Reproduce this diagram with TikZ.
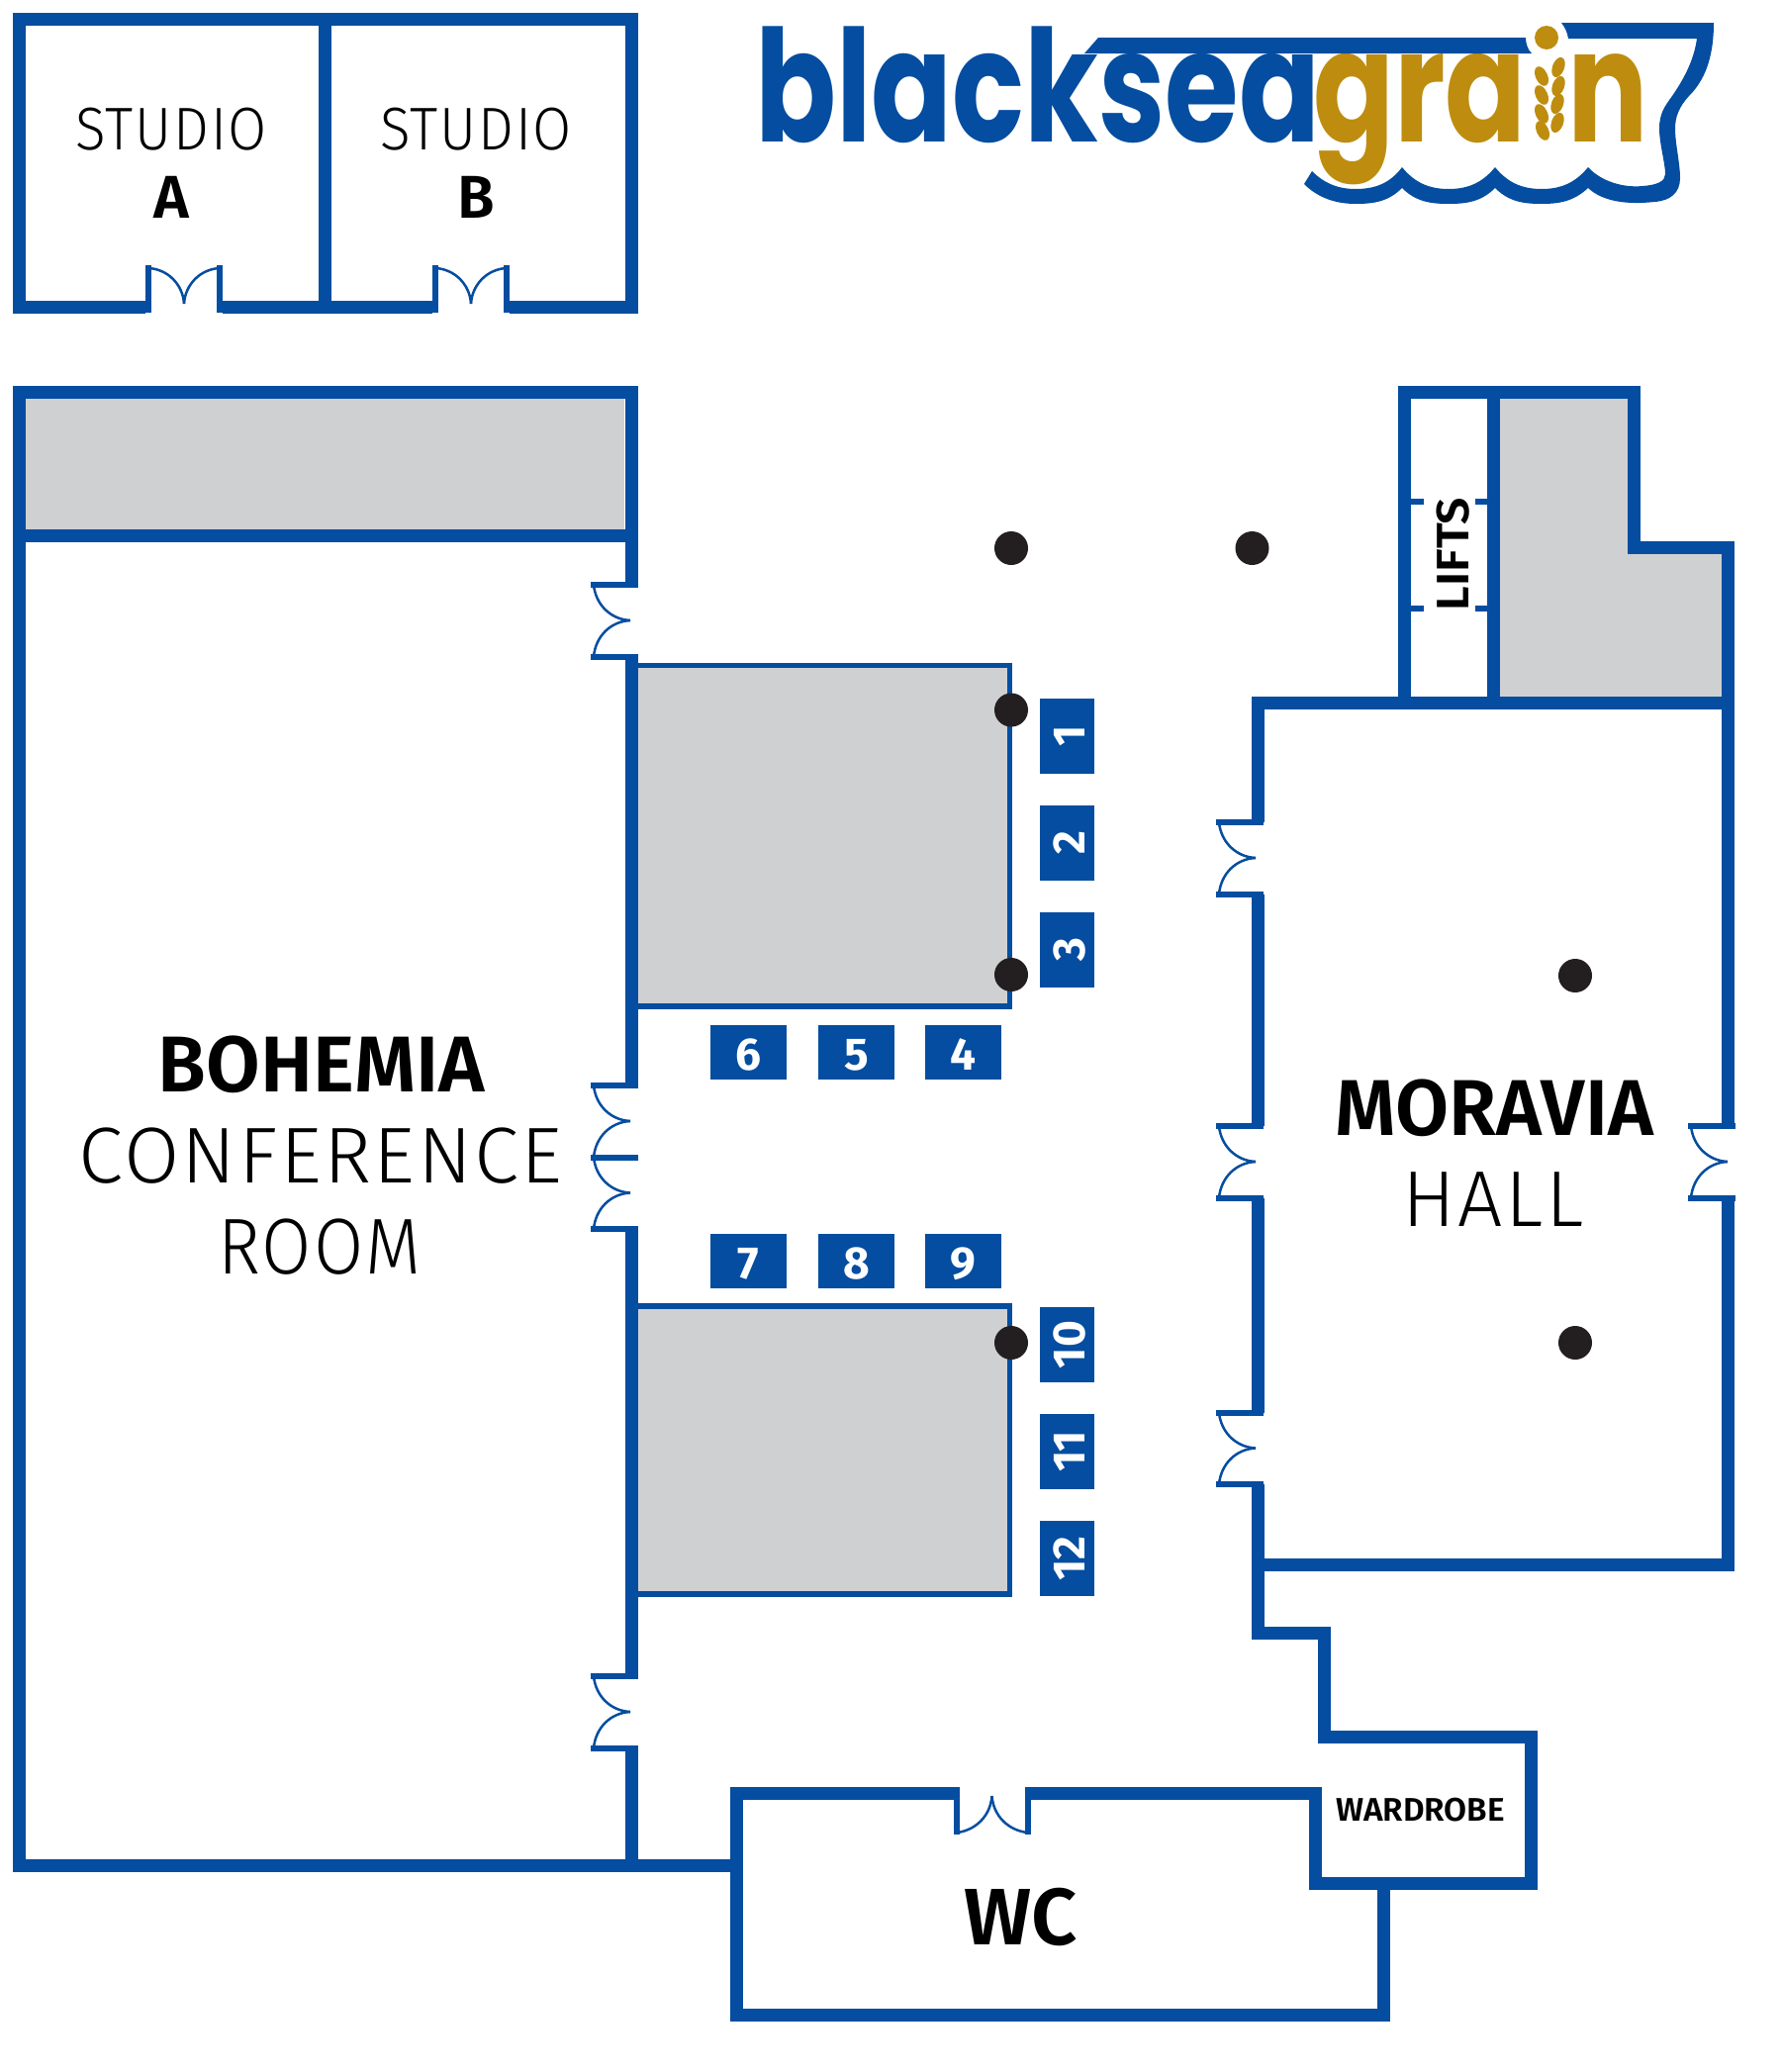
\documentclass[tikz,border=0pt]{standalone}
\usepackage{fontspec}
\usepackage{xcolor}
\usepackage{tikz}
\setmainfont{Fira Sans}
\newfontfamily\dinlight[LetterSpace=3]{Fira Sans Light}
\newfontfamily\dinbold{Fira Sans}[BoldFont={Fira Sans SemiBold}]
\newfontfamily\dinheavy{Fira Sans Bold}
\newfontfamily\logofont{Poppins Bold}
\definecolor{wallblue}{HTML}{044DA0}
\definecolor{roomgrey}{HTML}{CFD0D2}
\definecolor{pillarblack}{HTML}{231F20}
\definecolor{graingold}{HTML}{BE8D0F}
\tikzset{
	wall/.style={draw=wallblue,line width=13pt,line join=miter},
	partition/.style={draw=wallblue,line width=5.5pt},
	jamb/.style={draw=wallblue,line width=6pt},
	leaf/.style={draw=wallblue,line width=2.5pt},
	pillar/.style={fill=pillarblack},
	lighttext/.style={anchor=base,inner sep=0pt,text=black,transform shape,font=\dinlight\fontsize{#1}{#1}\selectfont},
	boldtext/.style={anchor=base,inner sep=0pt,text=black,transform shape,font=\dinbold\bfseries\fontsize{#1}{#1}\selectfont},
	standtag/.style={fill=wallblue,text=white,inner sep=0pt,minimum width=77pt,minimum height=55pt,text height=36pt,text depth=0pt,font=\dinheavy\fontsize{46}{46}\selectfont},
	sidetag/.style={standtag,minimum width=76pt,minimum height=55pt,rotate=90},
	logotext/.style={anchor=base west,inner sep=0pt,xscale=.827,yscale=1.08,transform shape,font=\logofont\fontsize{146}{146}\selectfont}
}
\begin{document}
\begin{tikzpicture}[x=1pt,y=-1pt]
	\useasboundingbox (0,0) rectangle (1800,2094);
	% grey areas
	\fill[roomgrey] (25,403) rectangle (631,535);
	\fill[roomgrey] (1515,402) -- (1645,402) -- (1645,560) -- (1740,560) -- (1740,704) -- (1515,704) -- cycle;
	\draw[partition,fill=roomgrey] (638,672.5) rectangle (1020.5,1017);
	\draw[partition,fill=roomgrey] (638,1320) rectangle (1020.5,1611);
	% studios
	\draw[wall] (147,310) -- (19,310) -- (19,19) -- (638,19) -- (638,310) -- (515,310);
	\draw[wall] (328,19) -- (328,310);
	\draw[wall] (225,310) -- (437,310);
	% bohemia
	\draw[wall] (638,591) -- (638,396) -- (19,396) -- (19,1885) -- (744.5,1885);
	\draw[wall] (19,541.5) -- (638,541.5);
	\draw[wall] (638,664) -- (638,1097);
	\draw[wall] (638,1242) -- (638,1694);
	\draw[wall] (638,1766) -- (638,1885);
	% lifts and moravia
	\draw[wall] (1419,710) -- (1419,396) -- (1651,396) -- (1651,553.5) -- (1746.5,553.5) -- (1746.5,1138);
	\draw[wall] (1509,396) -- (1509,710);
	\draw[wall] (1271.5,831) -- (1271.5,710) -- (1746.5,710);
	\draw[wall] (1271.5,903.5) -- (1271.5,1138);
	\draw[wall] (1271.5,1210.5) -- (1271.5,1427.5);
	\draw[wall] (1746.5,1210.5) -- (1746.5,1581) -- (1271.5,1581);
	\draw[wall] (1271.5,1500) -- (1271.5,1650) -- (1338,1650) -- (1338,1755.5) -- (1547,1755.5) -- (1547,1903) -- (1329,1903) -- (1329,1812.5) -- (1036,1812.5);
	\draw[wall] (970,1812.5) -- (744.5,1812.5) -- (744.5,2036) -- (1398,2036) -- (1398,1903);
	\foreach \y in {507,615}
	{
		\draw[jamb] (1425,\y) -- (1439,\y);
		\draw[jamb] (1491,\y) -- (1503,\y);
	}
	% doors
	\foreach \x/\y in {600/591,600/1097,600/1169.5,600/1694,1232/831,1232/1138,1232/1427.5,1709/1138}
	{
		\draw[jamb] (\x-3,\y) -- (\x+45,\y);
		\draw[jamb] (\x-3,\y+72.5) -- (\x+45,\y+72.5);
		\draw[leaf] (\x,\y) .. controls (\x+2,\y+20) and (\x+17,\y+35) .. (\x+37,\y+36);
		\draw[leaf] (\x,\y+72.5) .. controls (\x+2,\y+52) and (\x+17,\y+37) .. (\x+37,\y+36);
	}
	\foreach \x in {150,440}
	{
		\draw[jamb] (\x,268) -- (\x,316);
		\draw[jamb] (\x+72,268) -- (\x+72,316);
		\draw[leaf] (\x,271) .. controls (\x+20,272) and (\x+35,288) .. (\x+36,307);
		\draw[leaf] (\x+72,271) .. controls (\x+52,272) and (\x+37,288) .. (\x+36,307);
	}
	\draw[jamb] (967,1806) -- (967,1854);
	\draw[jamb] (1038.5,1806) -- (1038.5,1854);
	\draw[leaf] (967,1852) .. controls (985,1850) and (1001,1836) .. (1002.5,1815);
	\draw[leaf] (1038.5,1852) .. controls (1020,1850) and (1004,1836) .. (1002.5,1815);
	% pillars
	\foreach \x/\y in {1022/554,1265.5/554,1022/717.5,1022/985,1022/1357,1592/986,1592/1357}
	\fill[pillar] (\x,\y) circle[radius=17pt];
	% stands
	\foreach \n/\x in {6/756.5,5/865.5,4/973.5}
	\node[standtag] (tag\n) at (\x,1063) {\n};
	\foreach \n/\x in {7/756.5,8/865.5,9/973.5}
	\node[standtag] (tag\n) at (\x,1274) {\n};
	\foreach \n/\y in {1/744,2/852,3/960,10/1359,11/1467,12/1575}
	\node[sidetag] (tag\n) at (1078,\y) {\n};
	% rooms
	\node[lighttext=61,xscale=.93] (studioa) at (173,151) {STUDIO};
	\node[boldtext=61] (lettera) at (173.5,220) {A};
	\node[lighttext=61,xscale=.93] (studiob) at (481,151) {STUDIO};
	\node[boldtext=61] (letterb) at (481,220) {B};
	\node[boldtext=80,xscale=.99] (bohemia) at (325,1103) {BOHEMIA};
	\node[lighttext=80,xscale=1.02] (conference) at (324,1195) {CONFERENCE};
	\node[lighttext=80,xscale=.91] (room) at (323,1287) {ROOM};
	\node[boldtext=80,xscale=.98] (moravia) at (1510.5,1147) {MORAVIA};
	\node[lighttext=80] (hall) at (1509,1239) {HALL};
	\node[boldtext=81] (wc) at (1032,1965) {WC};
	\node[boldtext=33,xscale=1.01] (wardrobe) at (1435.5,1840) {WARDROBE};
	\node[boldtext=46,rotate=90,xscale=1.05] (lifts) at (1484,560) {LIFTS};
	% logo
	\node[logotext,text=wallblue] (logoblack) at (763,143) {blacksea};
	\node[logotext,text=graingold] (logogra) at (1327,143) {gra};
	\node[logotext,text=graingold] (logon) at (1584,143) {n};
	\fill[wallblue] (1096,54) -- (1110,38) -- (1542,38) .. controls (1542,44) and (1544,50) .. (1548,54) -- cycle;
	\fill[wallblue] (1578,23) -- (1732,23) .. controls (1732,60) and (1722,82) .. (1707,97) .. controls (1697,108) and (1693,118) .. (1693,130) .. controls (1693,145) and (1698,165) .. (1698,180) .. controls (1698,195) and (1688,203) .. (1672,204) .. controls (1645,207) and (1620,204) .. (1605,190) .. controls (1590,204) and (1575,206) .. (1558,206) .. controls (1540,206) and (1525,204) .. (1511,190) .. controls (1497,204) and (1482,206) .. (1464,206) .. controls (1446,206) and (1431,204) .. (1417,190) .. controls (1403,204) and (1388,206) .. (1370,206) .. controls (1350,206) and (1332,200) .. (1318,186) -- (1326,173) .. controls (1338,185) and (1352,191) .. (1370,191) .. controls (1390,191) and (1405,185) .. (1417,169) .. controls (1430,185) and (1445,191) .. (1464,191) .. controls (1483,191) and (1498,185) .. (1511,169) .. controls (1524,185) and (1539,191) .. (1558,191) .. controls (1577,191) and (1592,185) .. (1605,169) .. controls (1618,183) and (1640,190) .. (1660,188) .. controls (1675,187) and (1683,183) .. (1683,176) .. controls (1683,165) and (1677,145) .. (1677,130) .. controls (1677,115) and (1682,108) .. (1690,97) .. controls (1703,78) and (1712,60) .. (1715,39) -- (1585,39) .. controls (1584,32) and (1581,27) .. (1578,23) -- cycle;
	\fill[graingold] (1563,38) circle[radius=12pt];
	\foreach \x/\y in {1575/68,1575/87,1574/105,1574/124}
	\fill[graingold,rotate around={70:(\x,\y)}] (\x,\y) ellipse[x radius=10.5pt,y radius=6pt];
	\foreach \x/\y in {1558/77,1558/96,1558/115,1559/132}
	\fill[graingold,rotate around={115:(\x,\y)}] (\x,\y) ellipse[x radius=10.5pt,y radius=6pt];
\end{tikzpicture}
\end{document}
